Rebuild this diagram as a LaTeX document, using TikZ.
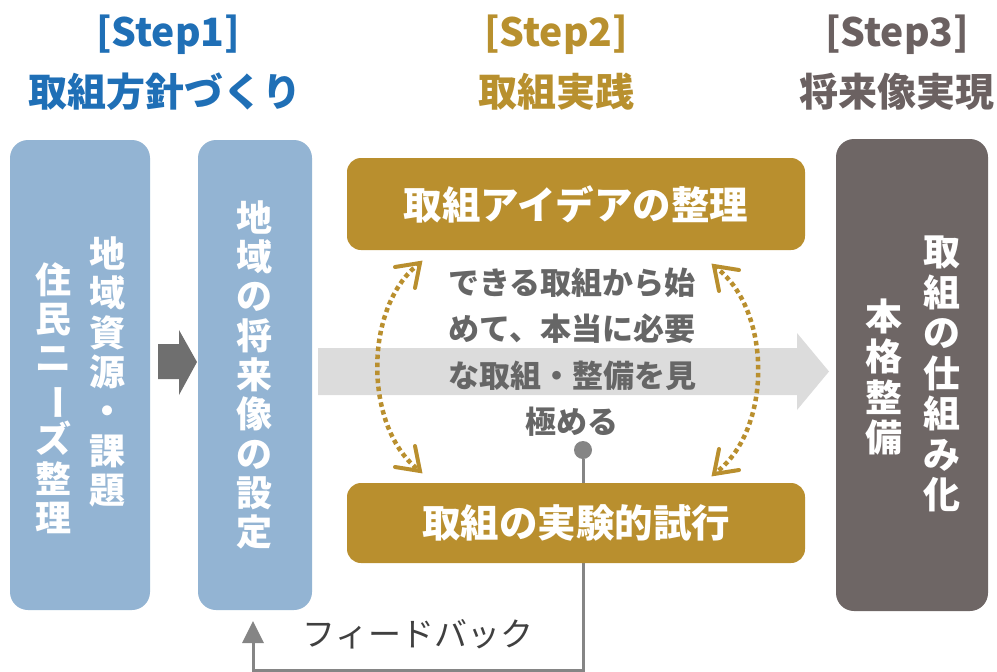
\documentclass[tikz,border=0pt]{standalone}
\usepackage{fontspec}
\usepackage{graphicx}
\setmainfont{Noto Sans CJK JP}
\usetikzlibrary{arrows.meta,calc}
\definecolor{stepblue}{HTML}{1F6FB6}
\definecolor{stepgold}{HTML}{B8902E}
\definecolor{stepgray}{HTML}{6B6161}
\definecolor{boxblue}{HTML}{93B4D3}
\definecolor{boxgold}{HTML}{B98F2E}
\definecolor{boxdark}{HTML}{6E6665}
\definecolor{arrowlight}{HTML}{DCDCDC}
\definecolor{arrowdark}{HTML}{6F6F6F}
\definecolor{txtgray}{HTML}{666666}
\definecolor{linegray}{HTML}{858585}
\newcommand{\vbar}{\rotatebox[origin=c]{-90}{ー}}
\begin{document}
\begin{tikzpicture}[x=1pt,y=-1pt,
  header/.style={font=\bfseries\fontsize{39}{44}\selectfont, inner sep=0pt},
  bluebox/.style={fill=boxblue, rounded corners=18pt, inner sep=0pt},
  goldbox/.style={fill=boxgold, rounded corners=14pt, inner sep=0pt,
     font=\bfseries\fontsize{38.5}{42}\selectfont, text=white},
  darkbox/.style={fill=boxdark, rounded corners=18pt, inner sep=0pt},
  vcol/.style={align=center, inner sep=0pt, text=white,
     font=\bfseries\fontsize{36}{39.3}\selectfont},
  dotarc/.style={draw=boxgold, line width=4.5pt, dash pattern=on 4.5pt off 3.5pt},
  barbtip/.style={draw=boxgold, line width=4pt, line cap=round, line join=miter},
  fbline/.style={draw=linegray, line width=3pt}
]
\useasboundingbox (0,0) rectangle (997,672);

% headers
\node[header, text=stepblue] (h1a) at (168,35) {[Step1]};
\node[header, text=stepblue] (h1b) at (165,92) {取組方針づくり};
\node[header, text=stepgold] (h2a) at (556,35) {[Step2]};
\node[header, text=stepgold] (h2b) at (556,92) {取組実践};
\node[header, text=stepgray] (h3a) at (897,35) {[Step3]};
\node[header, text=stepgray] (h3b) at (897,92) {将来像実現};

% big light arrow
\fill[arrowlight] (318,348) -- (797,348) -- (797,333) -- (829,371.5) -- (797,410) -- (797,395) -- (318,395) -- cycle;
% dark arrow
\fill[arrowdark] (158,344) -- (179,344) -- (179,330) -- (197,362) -- (179,395) -- (179,379) -- (158,379) -- cycle;

% feedback line
\node[circle, fill=linegray, inner sep=0pt, minimum size=18pt] (ball) at (583,450) {};
\coordinate (fbc) at (583,670.5);
\coordinate (fbl) at (253,670.5);

% left boxes
\node[bluebox, minimum width=140pt, minimum height=470pt] (b1) at (80,375) {};
\node[bluebox, minimum width=114pt, minimum height=470pt] (b2) at (255,375) {};
\draw[fbline] (ball) -- (fbc) -- (fbl) -- ([yshift=-30pt]b2.south -| fbl) ;
\fill[linegray] ([yshift=-11pt]b2.south -| fbl) ++(-11,22) -- ++(11,-22) -- ++(11,22) -- cycle;

\node[vcol] (b1r) at (107,372) {地\\域\\資\\源\\・\\課\\題};
\node[vcol] (b1l) at (53,398) {住\\民\\ニ\\\vbar\\ズ\\整\\理};
\node[vcol] (b2t) at (254,375) {地\\域\\の\\将\\来\\像\\の\\設\\定};

% gold boxes
\node[goldbox, minimum width=458pt, minimum height=92pt] (g1) at (576,204) {取組アイデアの整理};
\node[goldbox, minimum width=458pt, minimum height=80pt] (g2) at (576,523) {取組の実験的試行};

% right box
\node[darkbox, minimum width=152pt, minimum height=472pt] (d3) at (912,375) {};
\node[vcol, font=\bfseries\fontsize{37}{40.5}\selectfont] (d3r) at (942,374) {取\\組\\の\\仕\\組\\み\\化};
\node[vcol, font=\bfseries\fontsize{37}{40.5}\selectfont] (d3l) at (884,377) {本\\格\\整\\備};

% center text
\node[align=center, inner sep=0pt, text=txtgray,
      font=\bfseries\fontsize{31}{46.5}\selectfont] (ctr) at (572,352)
  {できる取組から始\\めて、本当に必要\\な取組・整備を見\\極める};

% dotted arcs
\coordinate (la) at (420,263);
\coordinate (lb) at (420,471);
\coordinate (ra) at (714,266);
\coordinate (rb) at (714,474);
\draw[dotarc] (la) .. controls (363,305) and (363,429) .. (lb);
\draw[dotarc] (ra) .. controls (773,308) and (773,432) .. (rb);
% chevron tips
\draw[barbtip] ($(la)+(-25,4)$) -- (la) -- ($(la)+(-5,25)$);
\draw[barbtip] ($(lb)+(-25,-4)$) -- (lb) -- ($(lb)+(-5,-25)$);
\draw[barbtip] ($(ra)+(25,4)$) -- (ra) -- ($(ra)+(5,25)$);
\draw[barbtip] ($(rb)+(25,-4)$) -- (rb) -- ($(rb)+(5,-25)$);

% feedback label
\node[inner sep=0pt, text=black!75, font=\fontsize{33}{36}\selectfont] (fbt) at (418,634) {フィードバック};
\end{tikzpicture}
\end{document}
